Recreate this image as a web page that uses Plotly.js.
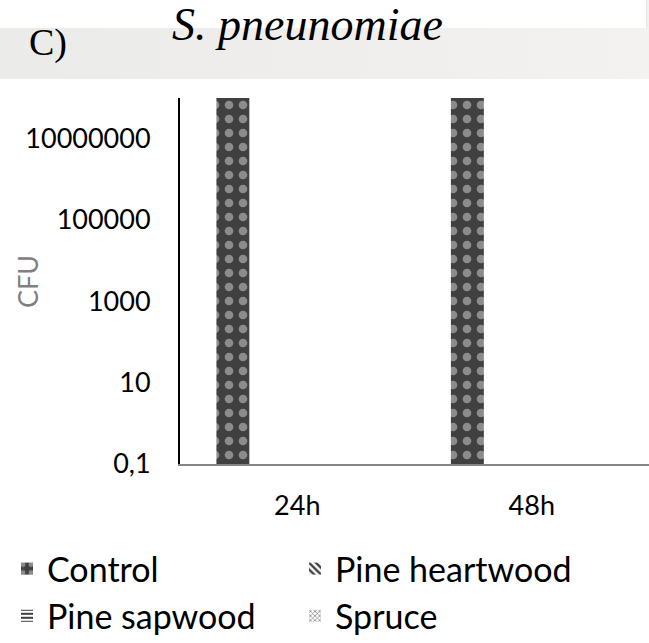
<!DOCTYPE html>
<html>
<head>
<meta charset="utf-8">
<script src="https://cdn.plot.ly/plotly-3.0.1.min.js"></script>
<style>
  html, body { margin: 0; padding: 0; background: #ffffff; }
  #wrap { position: relative; width: 649px; height: 643px; }
  #band { position: absolute; left: 0; top: 28px; width: 649px; height: 51px;
          background: linear-gradient(to right, #ebebe9 0%, #efeeec 50%, #f3f2f0 100%); }
  #edge { position: absolute; left: 646px; top: 0; width: 3px; height: 28px; background: #f2f2f2; border-left: 1px solid #e6e6e6; }
  #chart { position: absolute; left: 0; top: 0; width: 649px; height: 643px; }
</style>
</head>
<body>
<div id="wrap">
  <div id="band"></div>
  <div id="edge"></div>
  <div id="chart"></div>
</div>
<script>
// ---- data ----
const categories = ["24h", "48h"];
const seriesNames = ["Control", "Pine heartwood", "Pine sapwood", "Spruce"];
const control = [100000000, 100000000];
const pineHeartwood = [0, 0];
const pineSapwood = [0, 0];
const spruce = [0, 0];
const yTickVals = [0.1, 10, 1000, 100000, 10000000];
const yTickText = ["0,1", "10", "1000", "100000", "10000000"];

const seriesValues = [control, pineHeartwood, pineSapwood, spruce];
const patterns = [
  {shape: ".", bgcolor: "#404040", fgcolor: "#8c8c8c", size: 14, solidity: 0.3},
  {shape: "\\", bgcolor: "#ffffff", fgcolor: "#404040", size: 6, solidity: 0.5},
  {shape: "-", bgcolor: "#ffffff", fgcolor: "#404040", size: 5, solidity: 0.5},
  {shape: "x", bgcolor: "#ffffff", fgcolor: "#808080", size: 4, solidity: 0.4}
];
const baseColors = ["#404040", "#ffffff", "#ffffff", "#ffffff"];

const traces = seriesNames.map((name, i) => ({
  type: "bar",
  name: name,
  x: categories,
  y: seriesValues[i],
  marker: {color: baseColors[i], pattern: patterns[i], line: {width: 0}},
  hoverinfo: "x+y+name"
}));

const axisFont = {family: "Lato, 'Open Sans', sans-serif", size: 27, color: "#000000"};
const plotW = 469, plotH = 366, mL = 180, mT = 98;

const layout = {
  width: 649,
  height: 643,
  paper_bgcolor: "rgba(0,0,0,0)",
  plot_bgcolor: "rgba(0,0,0,0)",
  margin: {l: mL, r: 0, t: mT, b: 179, pad: 0, autoexpand: false},
  barmode: "group",
  bargap: 0.268,
  bargroupgap: 0.233,
  title: {
    text: "S. pneunomiae",
    font: {family: "'Liberation Serif', 'Times New Roman', serif", size: 46, style: "italic", color: "#000000"},
    xref: "container", x: 172 / 649, xanchor: "left",
    yref: "container", y: 1 - 24 / 643, yanchor: "middle"
  },
  xaxis: {
    type: "category",
    showline: true, linecolor: "#868686", linewidth: 2,
    showgrid: false, zeroline: false, ticks: "",
    tickfont: axisFont,
    ticklabelstandoff: 17,
    fixedrange: true
  },
  yaxis: {
    type: "log",
    range: [-1, 8],
    showline: true, linecolor: "#000000", linewidth: 2,
    showgrid: false, zeroline: false, ticks: "",
    tickmode: "array", tickvals: yTickVals, ticktext: yTickText,
    tickfont: axisFont,
    ticklabelstandoff: 22,
    fixedrange: true
  },
  showlegend: true,
  legend: {
    orientation: "h",
    xref: "paper", yref: "paper",
    x: (7 - mL) / plotW, xanchor: "left",
    y: -(540 - (mT + plotH)) / plotH, yanchor: "top",
    entrywidth: 243,
    font: {family: "Lato, 'Open Sans', sans-serif", size: 34, color: "#000000"},
    bgcolor: "rgba(0,0,0,0)",
    traceorder: "normal"
  },
  annotations: [
    {
      text: "C)", xref: "paper", yref: "paper",
      x: (27 - mL) / plotW, xanchor: "left",
      y: 1 + (mT - 42) / plotH, yanchor: "middle",
      showarrow: false,
      font: {family: "'Liberation Serif', 'Times New Roman', serif", size: 38, color: "#000000"}
    },
    {
      text: "CFU", xref: "paper", yref: "paper",
      x: (27 - mL) / plotW, xanchor: "center",
      y: 1 - (282 - mT) / plotH, yanchor: "middle",
      textangle: -90, showarrow: false,
      font: {family: "Lato, 'Open Sans', sans-serif", size: 27, color: "#808080"}
    }
  ]
};

Plotly.newPlot("chart", traces, layout, {displayModeBar: false, staticPlot: true});
</script>
</body>
</html>
